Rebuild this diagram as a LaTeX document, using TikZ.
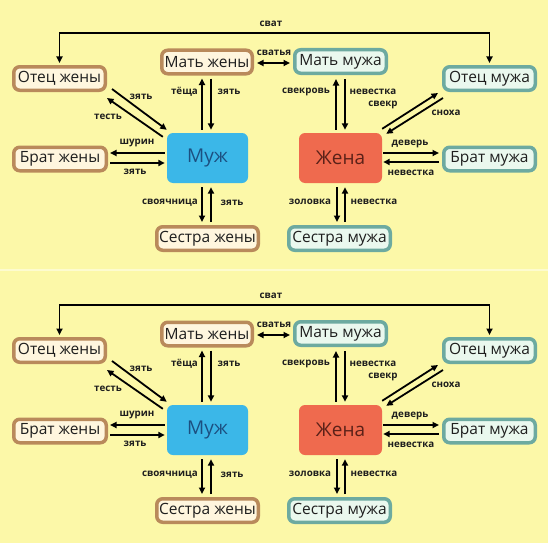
\documentclass[tikz,border=0pt]{standalone}
\usepackage{fontspec}
\setmainfont{Open Sans}
\usetikzlibrary{arrows.meta,calc}
\definecolor{bg}{HTML}{FCF8A8}
\definecolor{brownedge}{HTML}{B98A5B}
\definecolor{creamfill}{HTML}{FFF6DE}
\definecolor{tealedge}{HTML}{6DAAA0}
\definecolor{tealfill}{HTML}{EAF8EE}
\definecolor{husbfill}{HTML}{3BB7E8}
\definecolor{husbtext}{HTML}{1C4F80}
\definecolor{wifefill}{HTML}{EF6A4E}
\definecolor{wifetext}{HTML}{5B2118}
\definecolor{textdark}{HTML}{1E1E1E}
\tikzset{
  basebox/.style={line width=3.5pt, rounded corners=6pt, minimum width=#1, minimum height=23.5pt,
    inner sep=0pt, font=\fontsize{15.5}{15.5}\selectfont, text=textdark},
  wbox/.style={basebox=#1, draw=brownedge, fill=creamfill},
  mbox/.style={basebox=#1, draw=tealedge, fill=tealfill},
  husb/.style={fill=husbfill, rounded corners=6pt, minimum width=81pt, minimum height=50pt,
    inner sep=0pt, text=husbtext, font=\fontsize{19}{19}\selectfont},
  wife/.style={fill=wifefill, rounded corners=6pt, minimum width=83pt, minimum height=50pt,
    inner sep=0pt, text=wifetext, font=\fontsize{19}{19}\selectfont},
  arr/.style={line width=1.8pt, draw=black, arrows={-Triangle[length=6.5pt,width=6pt]}},
  darr/.style={line width=1.8pt, draw=black, arrows={Triangle[length=6.5pt,width=6pt]-Triangle[length=6.5pt,width=6pt]}},
  lbl/.style={font=\bfseries\fontsize{9.8}{9.8}\selectfont, text=textdark, inner sep=0pt},
  sepline/.style={draw=white, opacity=0.45, line width=2pt}
}
\newcommand\famdiagram{%
  \node[wbox=91.5pt] (otj) at (59.5,78.5) {Отец жены};
  \node[mbox=91.5pt] (otm) at (489.5,78.5) {Отец мужа};
  \node[wbox=90.5pt] (matj) at (207,62) {Мать жены};
  \node[mbox=91.5pt] (matm) at (340.5,61.5) {Мать мужа};
  \node[wbox=92.5pt] (brj) at (60,159) {Брат жены};
  \node[mbox=91.5pt] (brm) at (489.5,159) {Брат мужа};
  \node[wbox=101.5pt] (sj) at (207.5,238.5) {Сестра жены};
  \node[mbox=101.5pt] (sm) at (339.5,238.5) {Сестра мужа};
  \node[husb] (muzh) at (207.5,158) {Муж};
  \node[wife] (zhena) at (340.5,158) {Жена};
  % сват
  \coordinate (svt) at (272,33);
  \draw[darr, shorten <=2pt, shorten >=2pt] (otj.north) |- (svt) -| (otm.north);
  \node[lbl] (lsvat) at (271,24) {сват};
  % сватья
  \draw[darr] ($(matj.east)+(3,1)$) -- ($(matm.west)+(-3,1.5)$);
  \node[lbl] (lsvatya) at (274,53) {сватья};
  % Мать жены -- Муж
  \draw[arr] ($(muzh.north)+(-5.5,-3)$) -- ($(matj.south)+(-5,3)$);
  \draw[arr] ($(matj.south)+(4,3)$) -- ($(muzh.north)+(3.5,-3)$);
  \node[lbl] (ltesha) at (184.5,92) {тёща};
  \node[lbl] (lzyat1) at (229,92) {зять};
  % Муж -- Сестра жены
  \draw[arr] ($(muzh.south)+(-5.5,4)$) -- ($(sj.north)+(-5.5,-3)$);
  \draw[arr] ($(sj.north)+(3.5,-3)$) -- ($(muzh.south)+(3.5,4)$);
  \node[lbl] (lsvoya) at (170,203) {своячница};
  \node[lbl] (lzyat2) at (232,203) {зять};
  % Отец жены -- Муж
  \draw[arr] ($(otj.south east)+(5,-3)$) -- ($(muzh.north west)+(0,-3)$);
  \draw[arr] ($(muzh.north west)+(-4,4)$) -- ($(otj.south east)+(0,6)$);
  \node[lbl] (lzyat3) at (141,97) {зять};
  \node[lbl] (ltest) at (108,117) {тесть};
  % Брат жены -- Муж
  \draw[arr] ($(muzh.west)+(-2,-5)$) -- ($(brj.east)+(2,-6)$);
  \draw[arr] ($(brj.east)+(2,4)$) -- ($(muzh.west)+(-2,5)$);
  \node[lbl] (lshurin) at (137,143) {шурин};
  \node[lbl] (lzyat4) at (135,172) {зять};
  % Мать мужа -- Жена
  \draw[arr] ($(zhena.north)+(-4.5,-3)$) -- ($(matm.south)+(-4.5,4)$);
  \draw[arr] ($(matm.south)+(4.5,4)$) -- ($(zhena.north)+(4.5,-3)$);
  \node[lbl] (lsvekrov) at (306,92) {свекровь};
  \node[lbl] (lnev1) at (373,92) {невестка};
  % Отец мужа -- Жена
  \draw[arr] ($(zhena.north east)+(0,-4)$) -- ($(otm.south west)+(-4,1)$);
  \draw[arr] ($(otm.south west)+(1,6)$) -- ($(zhena.north east)+(4,1)$);
  \node[lbl] (lsvekr) at (383,105) {свекр};
  \node[lbl] (lsnoha) at (446,113) {сноха};
  % Жена -- Брат мужа
  \draw[arr] ($(zhena.east)+(1,-5)$) -- ($(brm.west)+(-3,-6)$);
  \draw[arr] ($(brm.west)+(-3,3)$) -- ($(zhena.east)+(1,4)$);
  \node[lbl] (ldever) at (410,144) {деверь};
  \node[lbl] (lnev2) at (411,173) {невестка};
  % Жена -- Сестра мужа
  \draw[arr] ($(zhena.south)+(-3.5,4)$) -- ($(sm.north)+(-2.5,-3)$);
  \draw[arr] ($(sm.north)+(5.5,-3)$) -- ($(zhena.south)+(4.5,4)$);
  \node[lbl] (lzolovka) at (310,202) {золовка};
  \node[lbl] (lnev3) at (374,202) {невестка};
}
\begin{document}
\begin{tikzpicture}[x=1pt,y=-1pt]
  \fill[bg] (0,0) rectangle (548,543);
  \useasboundingbox (0,0) rectangle (548,543);
  \draw[sepline] (0,270) -- (548,270);
  \begin{scope}[name prefix=a-]
    \famdiagram
  \end{scope}
  \begin{scope}[name prefix=b-, shift={(0,272)}]
    \famdiagram
  \end{scope}
\end{tikzpicture}
\end{document}
